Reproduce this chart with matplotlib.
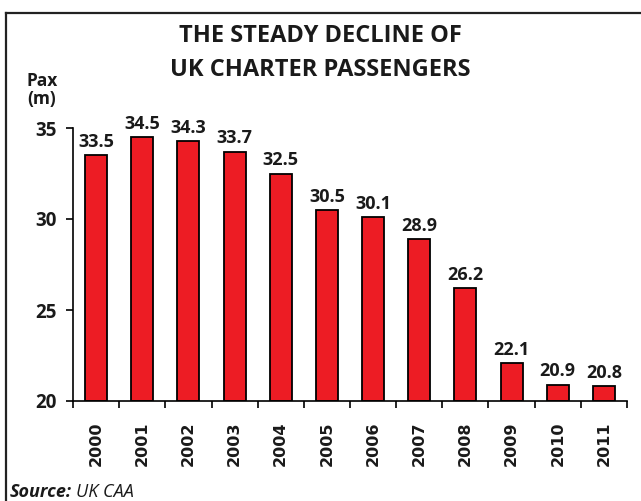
import matplotlib.pyplot as plt
from matplotlib.lines import Line2D

years = ['2000', '2001', '2002', '2003', '2004', '2005',
         '2006', '2007', '2008', '2009', '2010', '2011']
passengers = [33.5, 34.5, 34.3, 33.7, 32.5, 30.5, 30.1, 28.9, 26.2, 22.1, 20.9, 20.8]
y_ticks = [20, 25, 30, 35]

W, H = 641, 501
fig = plt.figure(figsize=(W / 100, H / 100), dpi=100)
ax = fig.add_axes([73 / W, 1 - 401 / H, (627 - 73) / W, (401 - 128) / H])

txt_font = 'Open Sans'
ink = '#1a1a1a'
x = list(range(len(years)))
ax.bar(x, [p - 20 for p in passengers], bottom=20, width=0.48,
       color='#ED1C24', edgecolor='black', linewidth=1.3, zorder=2)

for xi, p in zip(x, passengers):
    ax.annotate(f'{p:.1f}', (xi, p), xytext=(0, 3), textcoords='offset points',
                ha='center', va='bottom', fontsize=13, fontweight='bold',
                family=txt_font, color=ink, annotation_clip=False)

ax.set_xlim(-0.5, len(years) - 0.5)
ax.set_ylim(20, 35)
ax.set_yticks(y_ticks)
ax.set_yticklabels([str(t) for t in y_ticks], fontsize=13.5, fontweight='bold',
                   family=txt_font, color=ink)
ax.set_xticks(x)
ax.set_xticklabels(years, rotation=90, fontsize=11.5, fontweight='bold',
                   family='DejaVu Sans', color=ink)
ax.tick_params(axis='x', length=0, pad=15)
ax.set_xticks([i - 0.5 for i in range(len(years) + 1)], minor=True)
ax.tick_params(axis='x', which='minor', length=5, width=1.2, direction='out')
ax.tick_params(axis='y', length=5, width=1.2, direction='out', pad=7)

for side in ['top', 'right']:
    ax.spines[side].set_visible(False)
for side in ['left', 'bottom']:
    ax.spines[side].set_linewidth(1.2)

fig.text(320 / W, 1 - 53 / H, 'THE STEADY DECLINE OF\nUK CHARTER PASSENGERS',
         ha='center', va='center', fontsize=17, fontweight='bold',
         family=txt_font, color=ink, linespacing=1.5)
fig.text(27 / W, 1 - 90 / H, 'Pax\n(m)', ha='left', va='center', fontsize=12.5,
         fontweight='bold', family=txt_font, color=ink, linespacing=1.05)
fig.text(10 / W, 1 - 497 / H, 'Source:', ha='left', va='baseline', fontsize=13,
         fontweight='bold', fontstyle='italic', family=txt_font, color=ink)
fig.text(76 / W, 1 - 497 / H, 'UK CAA', ha='left', va='baseline', fontsize=13,
         fontstyle='italic', family=txt_font, color=ink)

# frame around the graphic (top and left edges only visible)
fig.add_artist(Line2D([6 / W, 1.0], [1 - 13 / H, 1 - 13 / H], color='#222222', lw=1.6))
fig.add_artist(Line2D([6 / W, 6 / W], [0, 1 - 13 / H], color='#222222', lw=1.6))

fig.savefig('out.png', dpi=100)
